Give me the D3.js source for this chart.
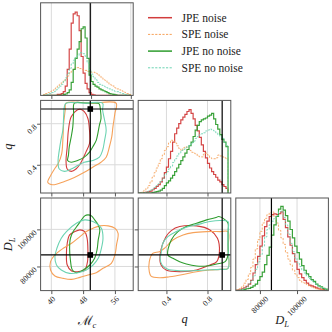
<!DOCTYPE html>
<html>
<head>
<meta charset="utf-8">
<script src="https://cdn.jsdelivr.net/npm/d3@7"></script>
<style>
  body { margin: 0; background: #fff; }
  svg { display: block; }
  text { font-family: "Liberation Serif", "DejaVu Serif", serif; fill: #222; }
</style>
</head>
<body>
<svg id="chart" width="332" height="332"></svg>
<script>
// ---- data ----
var seriesNames = ["JPE noise", "SPE noise", "JPE no noise", "SPE no noise"];
var truthMc = 49.8, truthQ = 0.943, truthDL = 86200;

// histogram bins (left edge, width)
var mcBinStart = 38, mcBinWidth = 0.5;
var qBinStart = 0.12, qBinWidth = 0.02;
var dlBinStart = 67500, dlBinWidth = 1250;

// chirp mass histograms (44 bins)
var mcJpeNoise = [0,0,0,0,0,0,0,1,1,2,4,10,28,50,78,88,90,86,70,42,24,13,7,3,1,0.5,0,0,0,0,0,0,0,0,0,0,0,0,0,0,0,0,0,0];
var mcSpeNoise = [1,2,3,4,5,6,8,10,12,14,16,18,21,24,26,28,30,30,29,28,27,27,26,26,25,25,24,23,21,19,17,16,14,12,11,10,8,7,6,5,4,3,2,1];
var mcJpeNoNoise = [0,0,0,0,0,0,0,0,0,0,1,1.5,3,6,14,28,40,50,58,72,74,62,40,22,15,12,10,9,7,6,5,4,3,2,1.5,1,0.5,0,0,0,0,0,0,0];
var mcSpeNoNoise = [0,0.5,1,2,3,4,6,8,10,12,15,19,24,29,34,38,41,43,46,46,45,42,35,28,23,20,17,14,12,11,10,9,8,7,6,5,4,4,3,2,2,1,0.5,0];

// mass ratio histograms (44 bins)
var qJpeNoise = [0,0,0,0.5,1,1.5,2,3.5,5,7,9,12,16,22,28,37,45,55,64,70,75,79,82,85,88,90,86,80,73,67,60,52,45,38,32,27,23,20,17,14,12,9,7,5];
var qSpeNoise = [0,0.5,1,3,5,8,12,17,22,27,32,37,41,46,50,54,57,56,54,51,48,46,49,50,47,46,44,43,42,40,39,39,42,43,41,38,37,37,38,41,40,39,38,37];
var qJpeNoNoise = [0,0,0,0,0,0,0,0.5,1,1.5,2,3,5,8,11,13,16,19,23,27,31,35,39,43,47,51,55,61,68,73,77,79,80,81,83,84,86,80,74,69,63,58,55,50];
var qSpeNoNoise = [0,0,0,0.5,1,2,3,4,6,8,10,13,16,20,23,26,29,33,37,40,43,46,47,49,50,52,54,56,59,61,63,64,65,67,68,69,68,67,65,63,61,59,55,51];

// luminosity distance histograms (39 bins)
var dlJpeNoise = [0.5,1,2,3,4.5,7,11,19,28,37,48,59,69,75,80,82,83,82,83,85,77,68,58,49,40,31,23,18,14,11,8,6,5,4,3,2,1.5,1,0.5];
var dlSpeNoise = [1,2,4,8,12,18,25,34,45,55,64,73,78,82,84,85,80,73,65,57,50,41,34,28,22,18,14,11,9,8,6.5,5,4,3,2,1.5,1,0.5,0];
var dlJpeNoNoise = [0,0,0.5,1,2,2.5,3.5,5,7,11,15,20,28,38,47,60,71,80,88,91,87,81,75,66,57,48,41,34,27,22,18,15,12,10,7,5,4,2.5,1.5];
var dlSpeNoNoise = [0.5,1,1.5,2.5,4.5,7,11,16,23,31,39,48,58,66,71,75,78,81,85,86,79,71,61,51,42,35,30,26,22,19,16,13,11,9,7,5,3.5,2.5,1.5];

// credible contours, (Mc, q)
var mcQJpeNoise = [[46.5,0.933],[45.0,0.868],[44.3,0.737],[44.0,0.573],[43.7,0.441],[44.0,0.359],[45.0,0.336],[46.2,0.359],[47.5,0.425],[48.7,0.523],[49.6,0.605],[49.6,0.737],[49.2,0.851],[48.3,0.917],[47.3,0.94]];
var mcQSpeNoise = [[43.7,1.0],[50,1.0],[56.3,1.0],[56.0,0.90],[55.5,0.769],[55.2,0.671],[54.6,0.573],[53.8,0.474],[52.5,0.425],[50.4,0.376],[48.3,0.327],[45.8,0.277],[43.3,0.238],[40.3,0.205],[39.1,0.228],[39.8,0.294],[40.8,0.359],[41.7,0.409],[42.6,0.507],[42.9,0.638],[43.1,0.802],[43.5,0.933]];
var mcQJpeNoNoise = [[45.8,1.0],[48.8,1.0],[51.7,1.0],[52.1,0.99],[52.4,0.917],[52.5,0.851],[52.1,0.786],[51.7,0.704],[51.3,0.638],[50.4,0.573],[49.6,0.523],[48.3,0.474],[46.6,0.441],[45.0,0.425],[44.1,0.441],[44.3,0.491],[44.5,0.573],[45.0,0.671],[45.4,0.769],[45.6,0.90]];
var mcQSpeNoNoise = [[43.7,1.0],[48.3,1.0],[52.9,1.0],[52.9,0.933],[53.4,0.835],[53.8,0.737],[53.4,0.638],[52.9,0.54],[52.1,0.474],[50.4,0.441],[48.3,0.425],[46.6,0.392],[45.0,0.359],[43.3,0.336],[42.0,0.359],[41.7,0.441],[42.0,0.54],[42.4,0.638],[42.9,0.737],[43.1,0.868],[43.3,0.97]];

// credible contours, (Mc, DL)
var mcDlJpeNoise = [[47.2,99700],[45.9,98800],[44.6,97000],[44.0,92500],[43.8,87100],[44.0,80800],[45.1,77540],[46.7,77200],[48.4,78100],[49.1,82600],[49.2,88900],[49.0,95200],[48.4,98800]];
var mcDlSpeNoise = [[52.2,101870],[50.5,100600],[48.8,98800],[47.2,96100],[45.1,92500],[43.0,89800],[40.9,86200],[39.8,82600],[39.8,78100],[40.9,74840],[43.0,73580],[45.1,73040],[47.2,74120],[49.2,75400],[51.3,76640],[53.0,79000],[55.1,81700],[56.0,86200],[56.4,91600],[56.8,97900],[56.0,100600],[54.3,101870]];
var mcDlJpeNoNoise = [[49.2,107800],[48.4,107270],[47.6,105100],[46.7,102400],[45.5,98800],[44.8,95200],[44.6,89800],[44.8,83500],[45.3,78100],[46.3,76640],[48.0,78100],[49.7,80800],[50.9,84400],[51.5,88900],[51.8,94300],[52.2,99700],[51.8,102400],[50.9,105100],[50.1,107270]];
var mcDlSpeNoNoise = [[48.4,105100],[46.3,103300],[43.8,98800],[42.5,95200],[41.4,89800],[40.9,85300],[41.3,80800],[42.5,78100],[44.6,76280],[46.7,76640],[48.8,78100],[50.5,80800],[51.8,84400],[52.6,89800],[53.0,95200],[52.6,100600],[51.3,103300],[49.7,104750]];

// credible contours, (q, DL)
var qDlJpeNoise = [[0.338,86200],[0.397,96100],[0.447,99340],[0.529,101500],[0.693,101870],[0.824,99700],[0.897,95200],[0.916,88000],[0.89,82600],[0.824,80800],[0.693,78100],[0.529,77200],[0.397,78100],[0.348,80800]];
var qDlSpeNoise = [[0.266,87060],[0.332,88000],[0.381,89800],[0.463,94300],[0.562,97000],[0.66,98260],[0.792,98800],[0.923,98800],[1.0,98800],[1.0,90000],[1.0,79000],[0.923,78450],[0.824,78100],[0.693,77200],[0.562,75700],[0.43,74450],[0.332,73900],[0.25,74800],[0.233,77200],[0.233,82600]];
var qDlJpeNoNoise = [[0.414,86200],[0.447,94300],[0.512,98800],[0.594,101500],[0.693,103300],[0.792,105100],[0.89,106550],[0.906,106900],[0.972,105100],[1.0,103300],[1.0,97900],[1.0,92500],[1.0,86200],[0.972,82600],[0.89,81330],[0.792,80250],[0.693,80250],[0.594,81330],[0.529,82600],[0.463,84400]];
var qDlSpeNoNoise = [[0.348,87100],[0.365,92500],[0.414,96100],[0.496,98800],[0.594,101150],[0.693,102400],[0.824,104200],[0.923,104750],[1.0,104200],[1.0,98800],[1.0,90000],[1.0,79000],[0.923,78450],[0.792,78100],[0.66,77720],[0.529,77720],[0.414,78450],[0.358,80800],[0.338,84400]];

// axis ticks
var mcTicks = [40, 48, 56], mcDiagTicks = [40, 50, 60];
var qTicks = [0.4, 0.8];
var dlTicks = [80000, 100000];

// ---- styles / layout ----
var colors = ["#d23c3c", "#f6a25a", "#2e9c2e", "#6cd3b2"];
var dashes = [null, "2.2,1.4", null, "2.2,1.4"];
var S = 92.6, gap = 5, left0 = 40.6, top0 = 2.8;

var params = [
  { domain: [37.3, 60.6], ticks: mcTicks, diagTicks: mcDiagTicks, fmt: d3.format("d"),
    bins: [mcBinStart, mcBinWidth], hists: [mcJpeNoise, mcSpeNoise, mcJpeNoNoise, mcSpeNoNoise], truth: truthMc },
  { domain: [0.125, 1.027], ticks: qTicks, diagTicks: qTicks, fmt: d3.format(".1f"),
    bins: [qBinStart, qBinWidth], hists: [qJpeNoise, qSpeNoise, qJpeNoNoise, qSpeNoNoise], truth: truthQ },
  { domain: [67000, 116900], ticks: dlTicks, diagTicks: dlTicks, fmt: d3.format("d"),
    bins: [dlBinStart, dlBinWidth], hists: [dlJpeNoise, dlSpeNoise, dlJpeNoNoise, dlSpeNoNoise], truth: truthDL }
];
var contours = {
  "1,0": [mcQJpeNoise, mcQSpeNoise, mcQJpeNoNoise, mcQSpeNoNoise],
  "2,0": [mcDlJpeNoise, mcDlSpeNoise, mcDlJpeNoNoise, mcDlSpeNoNoise],
  "2,1": [qDlJpeNoise, qDlSpeNoise, qDlJpeNoNoise, qDlSpeNoNoise]
};

var svg = d3.select("#chart");
var defs = svg.append("defs");

function cellX(i) { return left0 + i * (S + gap); }
function cellY(j) { return top0 + j * (S + gap); }

for (var row = 0; row < 3; row++) {
  for (var col = 0; col <= row; col++) {
    drawCell(row, col);
  }
}

function drawCell(row, col) {
  var p = params[col];
  var g = svg.append("g").attr("transform", "translate(" + cellX(col) + "," + cellY(row) + ")");
  var clipId = "clip" + row + col;
  defs.append("clipPath").attr("id", clipId).append("rect").attr("width", S).attr("height", S);

  var x = d3.scaleLinear().domain(p.domain).range([0, S]);
  var y;
  var xGrid = row === col ? p.diagTicks : p.ticks;

  var inner = g.append("g").attr("clip-path", "url(#" + clipId + ")");

  // grid
  inner.selectAll(".vgrid").data(xGrid).enter().append("line")
      .attr("x1", function(d) { return x(d); }).attr("x2", function(d) { return x(d); })
      .attr("y1", 0).attr("y2", S)
      .attr("stroke", "#dadada").attr("stroke-width", 1);

  if (row === col) {
    y = d3.scaleLinear().domain([0, 100]).range([S, 0]);
    var line = d3.line()
        .x(function(d) { return x(d[0]); })
        .y(function(d) { return y(d[1]); })
        .curve(d3.curveStepAfter);
    p.hists.forEach(function(vals, k) {
      var pts = [[p.bins[0], 0]];
      vals.forEach(function(v, b) { pts.push([p.bins[0] + b * p.bins[1], v]); });
      var end = p.bins[0] + vals.length * p.bins[1];
      pts.push([end, vals[vals.length - 1]]);
      pts.push([end, 0]);
      inner.append("path")
          .attr("d", line(pts))
          .attr("fill", "none")
          .attr("stroke", colors[k])
          .attr("stroke-width", dashes[k] ? 1 : 1.2)
          .attr("stroke-dasharray", dashes[k])
          .attr("opacity", dashes[k] ? 0.85 : 0.95);
    });
    inner.append("line")
        .attr("x1", x(p.truth)).attr("x2", x(p.truth))
        .attr("y1", 0).attr("y2", S)
        .attr("stroke", "#000").attr("stroke-width", 1.2);
  } else {
    var pr = params[row];
    y = d3.scaleLinear().domain(pr.domain).range([S, 0]);
    inner.selectAll(".hgrid").data(pr.ticks).enter().append("line")
        .attr("x1", 0).attr("x2", S)
        .attr("y1", function(d) { return y(d); }).attr("y2", function(d) { return y(d); })
        .attr("stroke", "#dadada").attr("stroke-width", 1);
    var shape = d3.line()
        .x(function(d) { return x(d[0]); })
        .y(function(d) { return y(d[1]); })
        .curve(d3.curveCatmullRomClosed.alpha(0.5));
    contours[row + "," + col].forEach(function(poly, k) {
      inner.append("path")
          .attr("d", shape(poly))
          .attr("fill", "none")
          .attr("stroke", colors[k])
          .attr("stroke-width", 1.1);
    });
    inner.append("line")
        .attr("x1", x(p.truth)).attr("x2", x(p.truth)).attr("y1", 0).attr("y2", S)
        .attr("stroke", "#000").attr("stroke-width", 1.2);
    inner.append("line")
        .attr("x1", 0).attr("x2", S).attr("y1", y(pr.truth)).attr("y2", y(pr.truth))
        .attr("stroke", "#000").attr("stroke-width", 1.2);
    inner.append("rect")
        .attr("x", x(p.truth) - 2.8).attr("y", y(pr.truth) - 2.8)
        .attr("width", 5.6).attr("height", 5.6)
        .attr("fill", "#000");

    // left ticks
    var ya = g.append("g").call(d3.axisLeft(y).tickValues(pr.ticks).tickSize(3.5).tickFormat(""));
    ya.select(".domain").remove();
    ya.selectAll("line").attr("stroke", "#555");
    if (col === 0) {
      pr.ticks.forEach(function(t) {
        g.append("text")
            .text(pr.fmt(t))
            .attr("font-size", 8)
            .attr("text-anchor", "end")
            .attr("dominant-baseline", "central")
            .attr("transform", "translate(-5," + (y(t) + 2) + ") rotate(-45)");
      });
    }
  }

  // bottom ticks
  var xa = g.append("g").attr("transform", "translate(0," + S + ")")
      .call(d3.axisBottom(x).tickValues(xGrid).tickSize(3.5).tickFormat(""));
  xa.select(".domain").remove();
  xa.selectAll("line").attr("stroke", "#555");

  if (row === 2) {
    p.ticks.forEach(function(t) {
      var txt = g.append("text")
          .text(p.fmt(t))
          .attr("font-size", 8)
          .attr("text-anchor", "middle")
          .attr("dominant-baseline", "central");
      var L = txt.node().getComputedTextLength();
      var half = (L + 6) * Math.SQRT1_2 / 2;
      txt.attr("transform", "translate(" + x(t) + "," + (S + 5 + half) + ") rotate(-45)");
    });
  }

  // frame
  g.append("rect").attr("width", S).attr("height", S)
      .attr("fill", "none").attr("stroke", "#555").attr("stroke-width", 1);
}

// axis labels
var mcLabel = svg.append("text")
    .attr("x", cellX(0) + S / 2).attr("y", 325)
    .attr("text-anchor", "middle").attr("font-size", 13);
mcLabel.append("tspan").text("\u2133");
mcLabel.append("tspan").text("c").attr("font-style", "italic").attr("font-size", 8.5).attr("dy", 2.5);

svg.append("text")
    .attr("x", cellX(1) + S / 2).attr("y", 323)
    .attr("text-anchor", "middle").attr("font-size", 12.5)
    .attr("font-style", "italic").text("q");

var dlLabel = svg.append("text")
    .attr("x", cellX(2) + S / 2).attr("y", 324)
    .attr("text-anchor", "middle").attr("font-size", 12.5).attr("font-style", "italic");
dlLabel.append("tspan").text("D");
dlLabel.append("tspan").text("L").attr("font-size", 8.5).attr("dy", 2.5);

svg.append("text")
    .attr("transform", "translate(12," + (cellY(1) + S / 2) + ") rotate(-90)")
    .attr("text-anchor", "middle").attr("font-size", 12.5)
    .attr("font-style", "italic").text("q");

var dlY = svg.append("text")
    .attr("transform", "translate(12," + (cellY(2) + S / 2) + ") rotate(-90)")
    .attr("text-anchor", "middle").attr("font-size", 12.5).attr("font-style", "italic");
dlY.append("tspan").text("D");
dlY.append("tspan").text("L").attr("font-size", 8.5).attr("dy", 2.5);

// legend
var legend = svg.append("g").attr("transform", "translate(148,17.7)");
seriesNames.forEach(function(name, k) {
  var item = legend.append("g").attr("transform", "translate(0," + k * 16.7 + ")");
  item.append("line")
      .attr("x1", 0).attr("x2", 24).attr("y1", 0).attr("y2", 0)
      .attr("stroke", colors[k])
      .attr("stroke-width", dashes[k] ? 1 : 1.5)
      .attr("stroke-dasharray", dashes[k]);
  item.append("text")
      .attr("x", 33.5).attr("y", 0)
      .attr("dominant-baseline", "central")
      .attr("font-size", 11.5)
      .text(name);
});
</script>
</body>
</html>
